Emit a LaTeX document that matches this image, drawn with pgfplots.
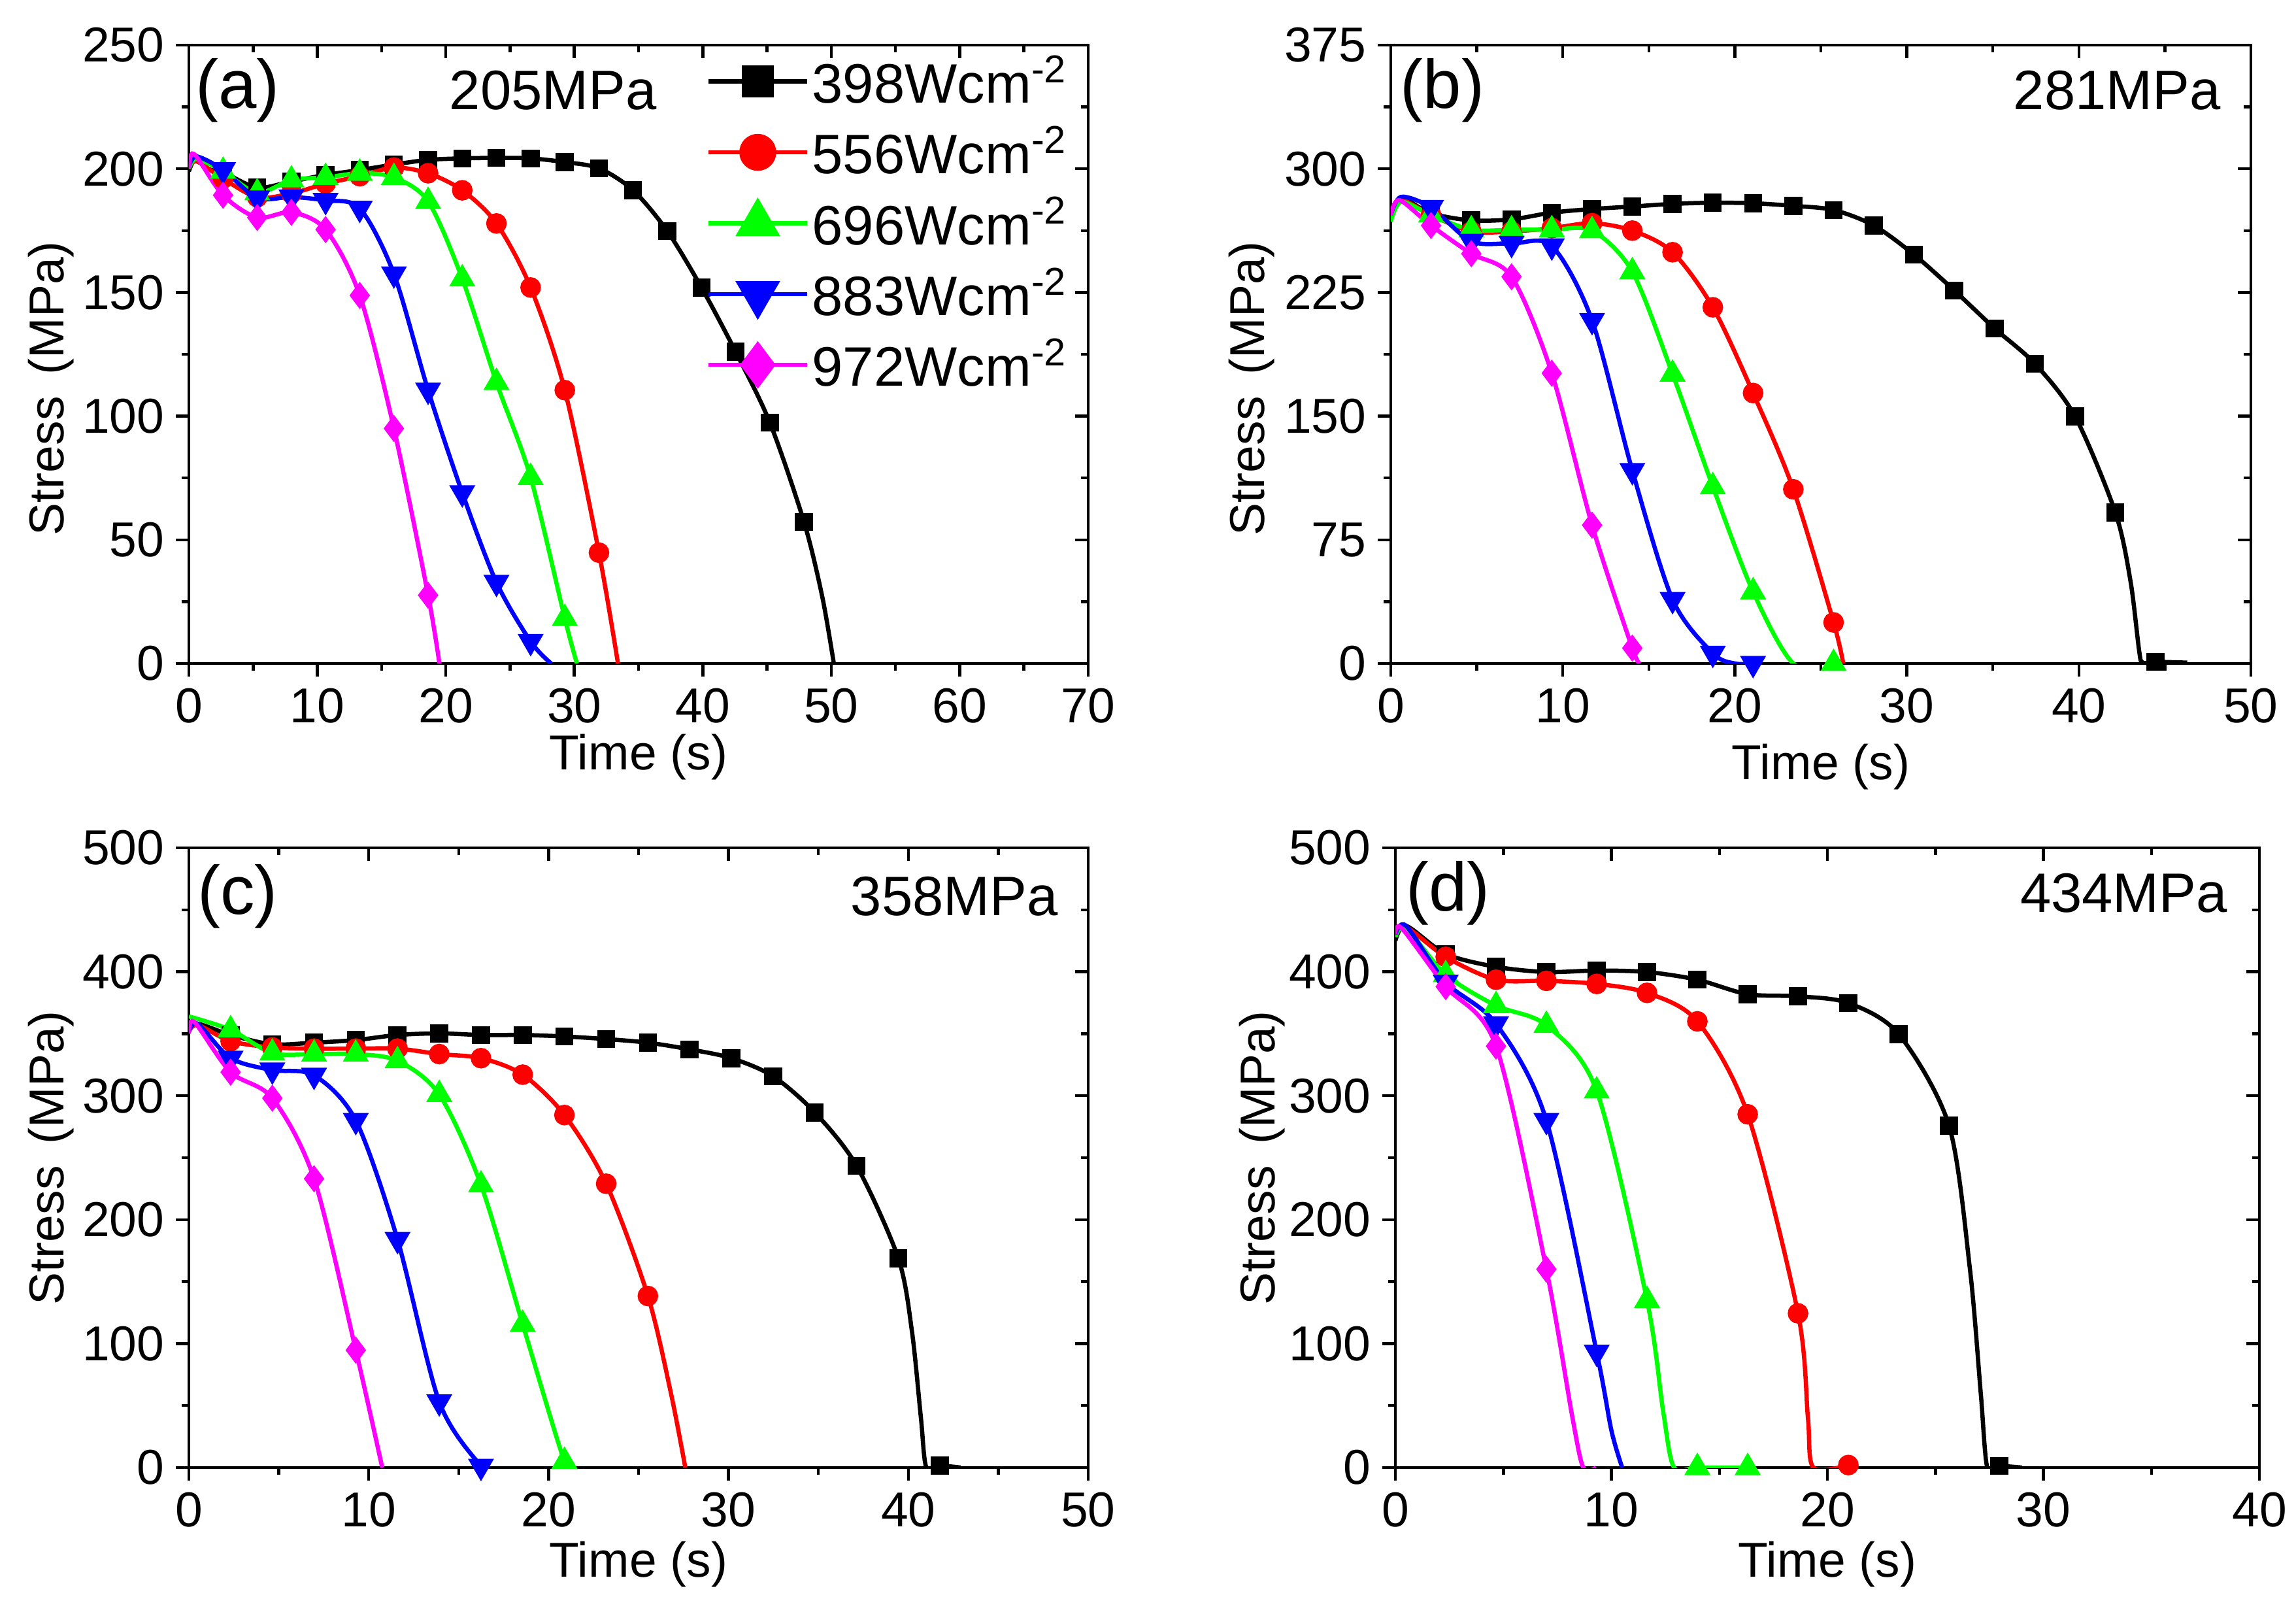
\documentclass[border=0pt]{standalone}
\usepackage{pgfplots}
\pgfplotsset{compat=1.18}
\usepackage{fontspec}
\setmainfont{Liberation Sans}
\definecolor{cblack}{RGB}{0,0,0}
\definecolor{cred}{RGB}{255,0,0}
\definecolor{cgreen}{RGB}{0,255,0}
\definecolor{cblue}{RGB}{0,0,255}
\definecolor{cmag}{RGB}{255,0,255}
\pgfplotsset{
  panel/.style={scale only axis, anchor=south west,
    axis line style={line width=0.9pt},
    every tick/.style={black, line width=0.9pt},
    major tick length=4pt, minor tick length=2.2pt,
    tick align=outside, xtick pos=left, ytick pos=left,
    minor x tick num=1, minor y tick num=1,
    tick label style={font=\fontsize{15}{17}\selectfont},
    /pgf/number format/assume math mode=true,
    label style={font=\fontsize{15}{18}\selectfont},
    xlabel={Time (s)}, ylabel={Stress\, (MPa)},
    every axis plot/.append style={line width=1.3pt},
  },
  over/.style={scale only axis, anchor=south west,
    axis line style={draw=none},
    every tick/.style={black, line width=0.9pt},
    major tick length=4pt, minor tick length=2.2pt,
    tick align=inside, xtick pos=right, ytick pos=right,
    minor x tick num=1, minor y tick num=1,
    xticklabels={}, yticklabels={},
  },
  s398/.style={cblack, mark=square*, mark size=2.1pt, smooth},
  s556/.style={cred, mark=*, mark size=2.5pt, smooth},
  s696/.style={cgreen, mark=triangle*, mark size=3.3pt, smooth},
  s883/.style={cblue, mark=triangle*, mark size=3.3pt, mark options={rotate=180}, smooth},
  s972/.style={cmag, mark=diamond*, mark size=3.1pt, smooth},
}
\newcommand{\tl}[1]{\node[font=\fontsize{21}{24}\selectfont] at (axis description cs:#1)}
\newcommand{\mpafont}{\fontsize{17}{20}\selectfont}
\begin{document}
\begin{tikzpicture}
\useasboundingbox (0,0) rectangle (702.6pt,493.2pt);
% ---------------- (a)
\begin{axis}[panel, at={(57.8pt,290.2pt)}, width=275.2pt, height=189.2pt,
  xmin=0, xmax=70, ymin=0, ymax=250, xtick={0,10,...,70}, ytick={0,50,...,250},
  xlabel style={at={(axis description cs:0.5,-0.151)}, anchor=center},
  ylabel style={at={(axis description cs:-0.153,0.445)}, anchor=center},
  legend style={at={(axis description cs:0.575,0.99)}, anchor=north west, draw=none, fill=none,
    font=\fontsize{17}{19}\selectfont, row sep=3.6pt, inner sep=0pt,
    nodes={inner sep=1pt}},
  legend cell align=left,
  legend image code/.code={\pgfplotmarksize=2\pgfplotmarksize
    \draw[mark indices={2}] plot coordinates {(0pt,0pt) (15pt,0pt) (30pt,0pt)};},
  ]
\addplot[s398, mark indices={4,5,6,7,8,9,10,11,12,13,14,15,16,17,18,19,20,21}] coordinates {
(0,199) (0.6,205) (1.5,200) (2.66,198.6) (5.32,192.4) (7.98,194.9) (10.64,197.5) (13.3,199.5)
(15.96,201.7) (18.62,203.6) (21.28,204.2) (23.94,204.4) (26.6,204.2) (29.26,202.7) (31.92,200.2)
(34.58,191.3) (37.24,174.8) (39.9,152) (42.56,126) (45.22,97.4) (47.88,57.2) (49.3,27) (50.2,0)};
\addlegendentry{398Wcm\textsuperscript{-2}}
\addplot[s556, mark indices={3,4,5,6,7,8,9,10,11,12,13,14}] coordinates {
(0,200) (0.6,203) (2.66,196) (5.32,188.5) (7.98,190) (10.64,194) (13.3,197) (15.96,200.5)
(18.62,198.2) (21.28,191.3) (23.94,177.9) (26.6,152) (29.26,110.5) (31.92,44.8) (33.4,0)};
\addlegendentry{556Wcm\textsuperscript{-2}}
\addplot[s696, mark indices={3,4,5,6,7,8,9,10,11,12,13}] coordinates {
(0,200) (0.6,204) (2.66,199) (5.32,190.3) (7.98,195.5) (10.64,196.5) (13.3,198.2) (15.96,196.5)
(18.62,186.8) (21.28,155.5) (23.94,113.6) (26.6,75.2) (29.26,18.2) (30.2,0)};
\addlegendentry{696Wcm\textsuperscript{-2}}
\addplot[s883, mark indices={3,4,5,6,7,8,9,10,11,12}] coordinates {
(0,201) (0.6,205) (2.66,199.6) (5.32,188.2) (7.98,188.6) (10.64,187.2) (13.3,184) (15.96,157.5)
(18.62,110.5) (21.28,69) (23.94,32.8) (26.6,8.9) (28.2,0)};
\addlegendentry{883Wcm\textsuperscript{-2}}
\addplot[s972, mark indices={3,4,5,6,7,8,9}] coordinates {
(0,200) (0.4,206) (2.66,189.3) (5.32,180.3) (7.98,182.4) (10.64,175.4) (13.3,148.8) (15.96,95)
(18.62,27.6) (19.5,0)};
\addlegendentry{972Wcm\textsuperscript{-2}}
\tl{0.054,0.927} {(a)};
\node[font=\mpafont] at (axis description cs:0.405,0.927) {205MPa};
\end{axis}
\begin{axis}[over, at={(57.8pt,290.2pt)}, width=275.2pt, height=189.2pt,
  xmin=0, xmax=70, ymin=0, ymax=250, xtick={0,10,...,70}, ytick={0,50,...,250}]
\end{axis}
% ---------------- (b)
\begin{axis}[panel, at={(425.6pt,290.2pt)}, width=263.2pt, height=189.2pt,
  xmin=0, xmax=50, ymin=0, ymax=375, xtick={0,10,...,50}, ytick={0,75,...,375},
  xlabel style={at={(axis description cs:0.5,-0.167)}, anchor=center},
  ylabel style={at={(axis description cs:-0.162,0.445)}, anchor=center},
  ]
\addplot[s398, mark indices={3,4,5,6,7,8,9,10,11,12,13,14,15,16,17,18,19,20,24}] coordinates {
(0,270) (0.6,282) (2.34,273) (4.68,268.7) (7.02,269.3) (9.36,273.4) (11.7,275.6) (14.04,277.1)
(16.38,278.7) (18.72,279.4) (21.06,279.1) (23.4,277.5) (25.74,275) (28.08,265.6) (30.42,247.9)
(32.76,226.2) (35.1,203.2) (37.44,181.8) (39.78,149.8) (42.12,91.6) (43.0,50) (43.5,8) (43.7,0.5)
(44.46,1) (46.3,0.5)};
\addplot[s556, mark indices={3,4,5,6,7,8,9,10,11,12,13}] coordinates {
(0,270) (0.6,281) (2.34,272) (4.68,262) (7.02,262) (9.36,264) (11.7,267) (14.04,262.5)
(16.38,249.4) (18.72,216) (21.06,164) (23.4,105.6) (25.74,24.9) (26.3,0)};
\addplot[s696, mark indices={3,4,5,6,7,8,9,10,11,13}] coordinates {
(0,268) (0.6,280) (2.34,272) (4.68,263) (7.02,263) (9.36,263) (11.7,262.5) (14.04,237.6)
(16.38,175.5) (18.72,107.2) (21.06,43.5) (23.4,0) (25.74,0)};
\addplot[s883, mark indices={3,4,5,6,7,8,9,10,12}] coordinates {
(0,272) (0.6,283) (2.34,276.5) (4.68,256) (7.02,254.7) (9.36,253.2) (11.7,208) (14.04,117)
(16.38,38.8) (18.72,6.2) (20,0) (21.06,0)};
\addplot[s972, mark indices={3,4,5,6,7,8}] coordinates {
(0,272) (0.5,281) (2.34,265.6) (4.68,248.5) (7.02,234.5) (9.36,176) (11.7,83.9) (14.04,9.3)
(14.5,0)};
\tl{0.06,0.927} {(b)};
\node[font=\mpafont, anchor=east] at (axis description cs:0.978,0.927) {281MPa};
\end{axis}
\begin{axis}[over, at={(425.6pt,290.2pt)}, width=263.2pt, height=189.2pt,
  xmin=0, xmax=50, ymin=0, ymax=375, xtick={0,10,...,50}, ytick={0,75,...,375}]
\end{axis}
% ---------------- (c)
\begin{axis}[panel, at={(57.8pt,44.2pt)}, width=275.2pt, height=189.6pt,
  xmin=0, xmax=50, ymin=0, ymax=500, xtick={0,10,...,50}, ytick={0,100,...,500},
  xlabel style={at={(axis description cs:0.5,-0.156)}, anchor=center},
  ylabel style={at={(axis description cs:-0.153,0.5)}, anchor=center},
  ]
\addplot[s398, mark indices={3,4,5,6,7,8,9,10,11,12,13,14,15,16,17,18,19,23}] coordinates {
(0,352) (0.5,358) (2.32,349) (4.64,341.5) (6.96,342.8) (9.28,344.9) (11.6,349) (13.92,350.3)
(16.24,349) (18.56,349) (20.88,347.8) (23.2,345.7) (25.52,342.8) (27.84,337.4) (30.16,330.3)
(32.48,315.7) (34.8,286.5) (37.12,243.5) (39.44,168.9) (40.2,110) (40.7,40) (41.0,0)
(41.76,1.5) (42.9,0)};
\addplot[s556, mark indices={3,4,5,6,7,8,9,10,11,12,13}] coordinates {
(0,352) (0.5,357) (2.32,344) (4.64,339) (6.96,338) (9.28,338) (11.6,338) (13.92,333.6)
(16.24,330.3) (18.56,317) (20.88,284.4) (23.2,229) (25.52,138.4) (26.8,60) (27.6,0)};
\addplot[s696, mark indices={2,3,4,5,6,7,8,9,10}] coordinates {
(0,364) (2.32,353.2) (4.64,334.4) (6.96,333.6) (9.28,333.6) (11.6,328.2) (13.92,301)
(16.24,228) (18.56,115.5) (20.88,5) (21.5,0)};
\addplot[s883, mark indices={3,4,5,6,7,8,9}] coordinates {
(0,352) (0.5,358) (2.32,330.3) (4.64,320.7) (6.96,316.5) (9.28,280) (11.6,184) (13.92,53)
(16.24,1) (16.6,0)};
\addplot[s972, mark indices={3,4,5,6}] coordinates {
(0,350) (0.3,359.5) (2.32,319) (4.64,298) (6.96,233) (9.28,94.7) (10.75,0)};
\tl{0.054,0.922} {(c)};
\node[font=\mpafont, anchor=east] at (axis description cs:0.979,0.922) {358MPa};
\end{axis}
\begin{axis}[over, at={(57.8pt,44.2pt)}, width=275.2pt, height=189.6pt,
  xmin=0, xmax=50, ymin=0, ymax=500, xtick={0,10,...,50}, ytick={0,100,...,500}]
\end{axis}
% ---------------- (d)
\begin{axis}[panel, at={(427pt,44.2pt)}, width=264.4pt, height=189.6pt,
  xmin=0, xmax=40, ymin=0, ymax=500, xtick={0,10,...,40}, ytick={0,100,...,500},
  xlabel style={at={(axis description cs:0.5,-0.156)}, anchor=center},
  ylabel style={at={(axis description cs:-0.154,0.5)}, anchor=center},
  ]
\addplot[s398, mark indices={3,4,5,6,7,8,9,10,11,12,13,17}] coordinates {
(0,425) (0.5,437) (2.33,414.4) (4.66,404) (6.99,399.8) (9.32,401) (11.65,399.8) (13.98,393.6)
(16.31,381.9) (18.64,380.2) (20.97,374.8) (23.3,349.7) (25.63,275.9) (26.6,160) (27.1,60)
(27.4,0) (27.96,1.3) (29,0)};
\addplot[s556, mark indices={3,4,5,6,7,8,9,10,13}] coordinates {
(0,430) (0.5,436) (2.33,412) (4.66,393.6) (6.99,392.7) (9.32,390.2) (11.65,383) (13.98,360)
(16.31,285) (18.64,124.4) (19.1,40) (19.35,0) (20.97,2)};
\addplot[s696, mark indices={3,4,5,6,7,10,11}] coordinates {
(0,428) (0.5,435) (2.33,397.7) (4.66,372.7) (6.99,356.8) (9.32,303.8) (11.65,134.8) (12.4,45)
(12.9,0) (13.98,0) (16.31,0)};
\addplot[s883, mark indices={3,4,5,6}] coordinates {
(0,430) (0.5,437) (2.33,391.5) (4.66,358) (6.99,280) (9.32,93) (10.0,30) (10.5,0)};
\addplot[s972, mark indices={3,4,5}] coordinates {
(0,430) (0.3,435) (2.33,388) (4.66,340) (6.99,160) (8.2,40) (8.7,0) (9.3,0)};
\tl{0.061,0.927} {(d)};
\node[font=\mpafont, anchor=east] at (axis description cs:0.976,0.927) {434MPa};
\end{axis}
\begin{axis}[over, at={(427pt,44.2pt)}, width=264.4pt, height=189.6pt,
  xmin=0, xmax=40, ymin=0, ymax=500, xtick={0,10,...,40}, ytick={0,100,...,500}]
\end{axis}
\end{tikzpicture}
\end{document}
